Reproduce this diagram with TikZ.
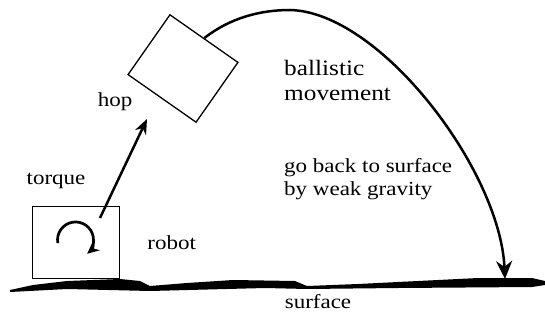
\documentclass[tikz,border=0pt]{standalone}
\usepackage{fontspec}
\setmainfont{Liberation Serif}[FakeStretch=1.15]
\usetikzlibrary{arrows.meta,positioning}

\begin{document}
\begin{tikzpicture}[
  x=1pt, y=-1pt,
  font=\fontsize{20}{23}\selectfont,
  >={Stealth[length=15pt,width=12pt]},
  body/.style={rectangle, draw, line width=1.3pt, inner sep=0pt},
  txt/.style={inner sep=0pt, align=left},
  jump/.style={->, line width=2.5pt}
]
\useasboundingbox (0,0) rectangle (545,323);

% ground
\fill (10,290) -- (33,285) -- (67,281) -- (120,279) -- (140,281) -- (150,286)
  -- (187,283) -- (233,280) -- (295,281) -- (307,286) -- (358,284) -- (398,282)
  -- (478,278) -- (532,278) -- (545,281) -- (545,285) -- (532,287) -- (398,288)
  -- (307,289) -- (265,288) -- (150,291) -- (67,289) -- (10,292) -- cycle;

\node[body, minimum width=87pt, minimum height=72pt] (robot) at (76,242.5) {};
\node[body, minimum width=83pt, minimum height=73pt, rotate=-35] (block) at (183,68.5) {};

\node[txt] (torquelbl) at (56,181) {torque};
\node[txt, right=27pt of robot] (robotlbl) {robot};
\node[txt] (hoplbl) at (115,102) {hop};
\node[txt, anchor=west, font=\fontsize{22}{25}\selectfont] (ballistic) at (284,80) {ballistic\\movement};
\node[txt, anchor=west] (gravity) at (284,179) {go back to surface\\by weak gravity};
\node[txt] (surfacelbl) at (318,302) {surface};

\coordinate (launch) at (100,218);
\coordinate (apex) at (147,119);
\coordinate (landing) at (505,279);

% torque on the robot
\draw[line width=2.7pt, -{Stealth[length=12pt,width=11pt]}]
  (57.8,243.1) arc[start angle=170, end angle=410, radius=18];

\draw[jump] (launch) -- (apex);
\draw[jump, >={Stealth[length=18pt,width=16pt]}] (block.north)
  .. controls (230,18) and (260,10) .. (290,10)
  .. controls (380,12) and (500,170) .. (landing);

\end{tikzpicture}
\end{document}
